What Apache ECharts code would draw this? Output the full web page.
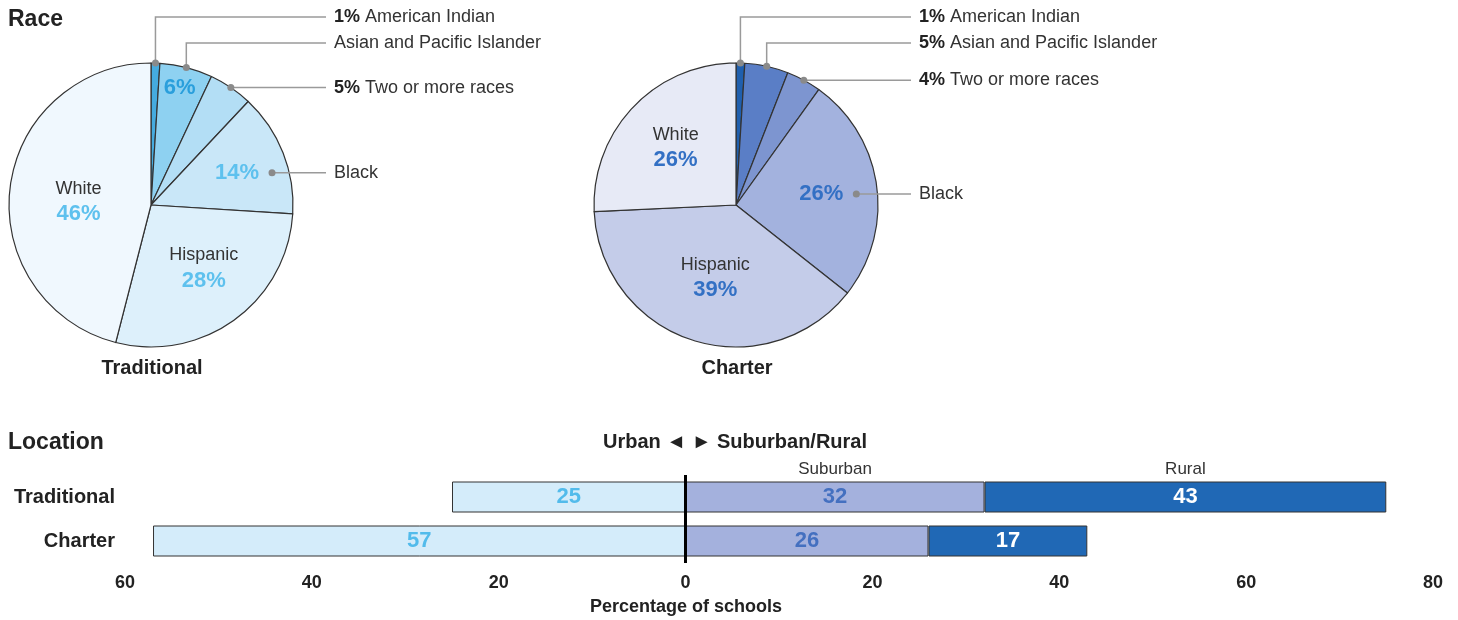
<!DOCTYPE html>
<html><head><meta charset="utf-8">
<script src="https://cdn.jsdelivr.net/npm/echarts@6/dist/echarts.min.js"></script>
<style>html,body{margin:0;padding:0;background:#fff}#c{width:1458px;height:620px}</style>
</head><body><div id="c"></div>
<script>
// ---- data ----
const raceNames = ['American Indian', 'Asian and Pacific Islander', 'Two or more races', 'Black', 'Hispanic', 'White'];
const traditionalRace = [1, 6, 5, 14, 28, 46];
const charterRace = [1, 5, 4, 26, 39, 26];
const locationGroups = ['Traditional', 'Charter'];
const urbanShare = [25, 57];
const suburbanShare = [32, 26];
const ruralShare = [43, 17];
const axisMin = -60, axisMax = 80, axisStep = 20;

// ---- styling ----
const FONT = '"Liberation Sans", Arial, Helvetica, sans-serif';
const chart = echarts.init(document.getElementById('c'), null, { renderer: 'canvas' });

const pies = [
  {
    title: 'Traditional', values: traditionalRace, center: [151, 205], r: 142,
    colors: ['#45abdf', '#8ed1f1', '#b3def5', '#c9e7f8', '#ddf0fb', '#f0f8fe'],
    pctColor: '#5ec1ee', strongPct: '#2a9fdc',
    inner: { 1: { pct: true, off: [11, -48], strong: true }, 3: { pct: true, off: [20, -6] },
             4: { name: true, pct: true, off: [11, 6] }, 5: { name: true, pct: true, off: [-2, 6] } },
    outer: { 0: { pct: true, row: 0 }, 1: { pct: false, row: 1 }, 2: { pct: true }, 3: { pct: false, fromInner: true } }
  },
  {
    title: 'Charter', values: charterRace, center: [736, 205], r: 142,
    colors: ['#1f5fae', '#5a7ec6', '#7d95d0', '#a3b2de', '#c4cce9', '#e7eaf6'],
    pctColor: '#3370c4', strongPct: '#3370c4',
    inner: { 3: { pct: true, off: [15, -1] }, 4: { name: true, pct: true, off: [1, 5] }, 5: { name: true, pct: true, off: [-9, -8] } },
    outer: { 0: { pct: true, row: 0 }, 1: { pct: true, row: 1 }, 2: { pct: true }, 3: { pct: false, fromInner: true } }
  }
];

function geom(p) {
  const total = p.values.reduce((a, b) => a + b, 0);
  let cum = 0;
  return p.values.map(v => {
    const mid = (cum + v / 2) / total * 2 * Math.PI;
    cum += v;
    return rho => [p.center[0] + rho * Math.sin(mid), p.center[1] - rho * Math.cos(mid)];
  });
}

const series = [];
const graphics = [];
const rowOffsets = [-188, -162];

pies.forEach(p => {
  const g = geom(p);
  const innerPos = {};
  Object.keys(p.inner).forEach(k => {
    const c = g[k](p.r / 2), o = p.inner[k].off;
    innerPos[k] = [c[0] + o[0], c[1] + o[1]];
  });
  const lineEndX = p.center[0] + 175;
  const outerGeo = {};
  Object.keys(p.outer).forEach(k => {
    const o = p.outer[k];
    let start, pts, y;
    if (o.row != null) {
      start = g[k](p.r);
      y = p.center[1] + rowOffsets[o.row];
      pts = [start, [start[0], y], [lineEndX, y]];
    } else if (o.fromInner) {
      start = [innerPos[k][0] + 35, innerPos[k][1]];
      y = start[1];
      pts = [start, [(start[0] + lineEndX) / 2, y], [lineEndX, y]];
    } else {
      start = g[k](p.r);
      y = start[1];
      pts = [start, [(start[0] + lineEndX) / 2, y], [lineEndX, y]];
    }
    outerGeo[k] = { pts, x: lineEndX + 8, y };
    graphics.push({ type: 'circle', z: 100, shape: { cx: start[0], cy: start[1], r: 3.5 }, style: { fill: '#8a8a8a' } });
  });

  // visible slices with inner labels
  series.push({
    type: 'pie', center: p.center, radius: p.r, startAngle: 90, clockwise: true,
    avoidLabelOverlap: false, silent: true, animation: false,
    itemStyle: { borderColor: '#333', borderWidth: 1.2 },
    label: { show: true, position: 'inside', fontFamily: FONT,
      rich: {
        n: { fontSize: 18, color: '#333', fontFamily: FONT, lineHeight: 24, align: 'center' },
        p: { fontSize: 22, fontWeight: 'bold', color: p.pctColor, fontFamily: FONT, lineHeight: 26, align: 'center' },
        s: { fontSize: 22, fontWeight: 'bold', color: p.strongPct, fontFamily: FONT, lineHeight: 26, align: 'center' }
      } },
    labelLine: { show: false },
    labelLayout: params => {
      const pos = innerPos[params.dataIndex];
      if (!pos) return {};
      return { x: pos[0], y: pos[1], align: 'center', verticalAlign: 'middle' };
    },
    data: p.values.map((v, i) => {
      const cfg = p.inner[i];
      const item = { name: raceNames[i], value: v, itemStyle: { color: p.colors[i] } };
      if (!cfg) { item.label = { show: false }; return item; }
      const parts = [];
      if (cfg.name) parts.push('{n|' + raceNames[i] + '}');
      if (cfg.pct) parts.push('{' + (cfg.strong ? 's' : 'p') + '|' + v + '%}');
      item.label = { show: true, formatter: parts.join('\n') };
      return item;
    })
  });

  // overlay for outside callout labels
  series.push({
    type: 'pie', center: p.center, radius: p.r, startAngle: 90, clockwise: true,
    avoidLabelOverlap: false, silent: true, animation: false, z: 5,
    itemStyle: { color: 'rgba(0,0,0,0)', borderWidth: 0 },
    label: { show: true, position: 'outside', fontFamily: FONT, fontSize: 18, color: '#333',
      rich: { b: { fontWeight: 'bold', fontSize: 18, color: '#222', fontFamily: FONT },
              t: { fontSize: 18, color: '#333', fontFamily: FONT } } },
    labelLine: { show: true, length: 10, length2: 10, lineStyle: { color: '#9a9a9a', width: 1.5 } },
    labelLayout: params => {
      const og = outerGeo[params.dataIndex];
      if (!og) return {};
      return { x: og.x, y: og.y, align: 'left', verticalAlign: 'middle', labelLinePoints: og.pts };
    },
    data: p.values.map((v, i) => {
      const cfg = p.outer[i];
      if (!cfg) return { name: raceNames[i], value: v, label: { show: false }, labelLine: { show: false } };
      const txt = (cfg.pct ? '{b|' + v + '%} ' : '') + '{t|' + raceNames[i] + '}';
      return { name: raceNames[i], value: v, label: { show: true, formatter: txt }, labelLine: { show: true } };
    })
  });

  graphics.push({ type: 'text', x: p.center[0] + 1, y: p.center[1] + 163,
    style: { text: p.title, font: 'bold 20px ' + FONT, fill: '#222', align: 'center', verticalAlign: 'middle', textAlign: 'center', textVerticalAlign: 'middle' } });
});

// ---- location bars ----
const barCommon = { type: 'bar', stack: 'loc', barWidth: 31, silent: true, animation: false,
  itemStyle: { borderColor: '#333', borderWidth: 1 } };
series.push(Object.assign({}, barCommon, {
  name: 'Urban', data: urbanShare.map(v => -v),
  itemStyle: { color: '#d4ecfa', borderColor: '#333', borderWidth: 1 },
  label: { show: true, position: 'inside', formatter: d => Math.abs(d.value), fontFamily: FONT, fontSize: 22, fontWeight: 'bold', color: '#52bbeb' },
  markLine: { silent: true, symbol: 'none', label: { show: false }, animation: false,
    lineStyle: { color: '#000', width: 3, type: 'solid' }, data: [{ xAxis: 0 }] }
}));
series.push(Object.assign({}, barCommon, {
  name: 'Suburban', data: suburbanShare.slice(),
  itemStyle: { color: '#a4b1dd', borderColor: '#333', borderWidth: 1 },
  label: { show: true, position: 'inside', fontFamily: FONT, fontSize: 22, fontWeight: 'bold', color: '#4470c0' }
}));
series.push(Object.assign({}, barCommon, {
  name: 'Rural', data: ruralShare.slice(),
  itemStyle: { color: '#2068b5', borderColor: '#333', borderWidth: 1 },
  label: { show: true, position: 'inside', fontFamily: FONT, fontSize: 22, fontWeight: 'bold', color: '#ffffff' }
}));
// header labels above the Traditional bar
[['Suburban', suburbanShare], ['Rural', ruralShare]].forEach(([nm, arr]) => {
  series.push({ type: 'bar', name: nm, stack: 'hdr', barWidth: 31, barGap: '-100%', silent: true, animation: false, z: 1,
    data: arr.map((v, i) => i === 0 ? v : '-'),
    itemStyle: { color: 'rgba(0,0,0,0)' },
    label: { show: true, position: 'top', distance: 4, formatter: '{a}', fontFamily: FONT, fontSize: 17, color: '#333' } });
});

graphics.push(
  { type: 'text', x: 8, y: 20, style: { text: 'Race', font: 'bold 23px ' + FONT, fill: '#222', verticalAlign: 'middle', textVerticalAlign: 'middle' } },
  { type: 'text', x: 8, y: 443, style: { text: 'Location', font: 'bold 23px ' + FONT, fill: '#222', verticalAlign: 'middle', textVerticalAlign: 'middle' } },
  { type: 'text', x: 735, y: 442, style: { text: 'Urban \u25C4 \u25BA Suburban/Rural', font: 'bold 20px ' + FONT, fill: '#222', align: 'center', textAlign: 'center', verticalAlign: 'middle', textVerticalAlign: 'middle' } },
  { type: 'text', x: 686, y: 607, style: { text: 'Percentage of schools', font: 'bold 18px ' + FONT, fill: '#222', align: 'center', textAlign: 'center', verticalAlign: 'middle', textVerticalAlign: 'middle' } }
);

chart.setOption({
  animation: false,
  backgroundColor: '#fff',
  grid: { left: 125, right: 25, top: 475, height: 88, outerBoundsMode: 'none', containLabel: false },
  xAxis: { type: 'value', min: axisMin, max: axisMax, interval: axisStep,
    axisLine: { show: false }, axisTick: { show: false }, splitLine: { show: false },
    axisLabel: { formatter: v => Math.abs(v), fontFamily: FONT, fontSize: 18, fontWeight: 'bold', color: '#222', margin: 11 } },
  yAxis: { type: 'category', data: locationGroups, inverse: true,
    axisLine: { show: false }, axisTick: { show: false },
    axisLabel: { fontFamily: FONT, fontSize: 20, fontWeight: 'bold', color: '#222', margin: 10 } },
  series: series,
  graphic: graphics
});
</script></body></html>
